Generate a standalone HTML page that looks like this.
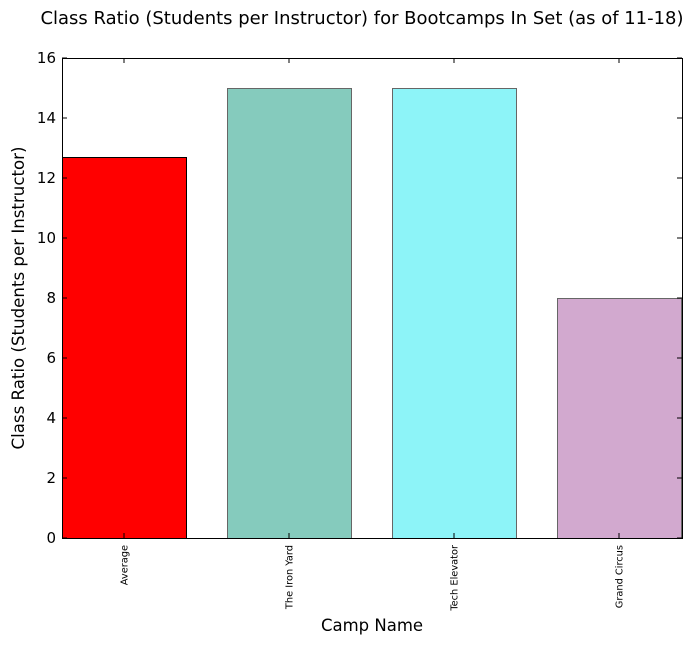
<!DOCTYPE html>
<html><head><meta charset="utf-8"><style>
body{margin:0;background:#fff}
text{font-family:"DejaVu Sans","Liberation Sans",sans-serif}
</style></head><body>
<svg id="chart" width="693" height="645" xmlns="http://www.w3.org/2000/svg">
<rect width="693" height="645" fill="#fff"/>
<text x="362" y="24" font-size="17.5" text-anchor="middle" textLength="643" lengthAdjust="spacingAndGlyphs">Class Ratio (Students per Instructor) for Bootcamps In Set (as of 11-18)</text>
<text transform="translate(24,298) rotate(-90)" font-size="16.5" text-anchor="middle" textLength="303" lengthAdjust="spacingAndGlyphs">Class Ratio (Students per Instructor)</text>
<text x="372" y="631" font-size="16.5" text-anchor="middle">Camp Name</text>
<g id="bars"></g>
<g id="axes"></g>
</svg>
<script>
const categories = ["Average", "The Iron Yard", "Tech Elevator", "Grand Circus"];
const values = [12.7, 15, 15, 8];
const colors = ["#ff0000", "#85cbbd", "#8df4f8", "#d2a9cf"];
const edges = ["#000000", "#666666", "#666666", "#666666"];
const yTicks = [0, 2, 4, 6, 8, 10, 12, 14, 16];

const L = 62, R = 682, T = 58, B = 538;
const NS = "http://www.w3.org/2000/svg";
const yScale = v => B - (v - 0) / 16 * (B - T);
const step = 165, bw = 124;
const xScale = i => L + i * step;

const bars = document.getElementById('bars');
const axes = document.getElementById('axes');
function mk(tag, attrs, parent) {
  const e = document.createElementNS(NS, tag);
  for (const k in attrs) e.setAttribute(k, attrs[k]);
  parent.appendChild(e);
  return e;
}
categories.forEach((c, i) => {
  const x = xScale(i), y = yScale(values[i]);
  const r = mk('rect', {x: x + 0.5, y: y + 0.5, width: bw, height: B - y, fill: colors[i], stroke: edges[i], 'stroke-width': 1}, bars);
  
  
  const cx = x + bw / 2;
  mk('line', {x1: cx, x2: cx, y1: B, y2: B - 5, stroke: '#000'}, axes);
  mk('line', {x1: cx, x2: cx, y1: T, y2: T + 5, stroke: '#000'}, axes);
  const t = mk('text', {transform: `translate(${cx + 3.5},${B + 7}) rotate(-90)`, 'font-size': 9.8, 'text-anchor': 'end'}, axes);
  t.textContent = c;
  
  
});
yTicks.forEach(v => {
  const y = yScale(v);
  mk('line', {x1: L, x2: L + 5, y1: y, y2: y, stroke: '#000'}, axes);
  mk('line', {x1: R, x2: R - 5, y1: y, y2: y, stroke: '#000'}, axes);
  const t = mk('text', {x: L - 6, y: y + 5, 'font-size': 15, 'text-anchor': 'end'}, axes);
  t.textContent = v;
  
  
});
const frame = mk('rect', {x: L + 0.5, y: T + 0.5, width: R - L, height: B - T, fill: 'none', stroke: '#000', 'stroke-width': 1}, axes);


</script>
</body></html>
